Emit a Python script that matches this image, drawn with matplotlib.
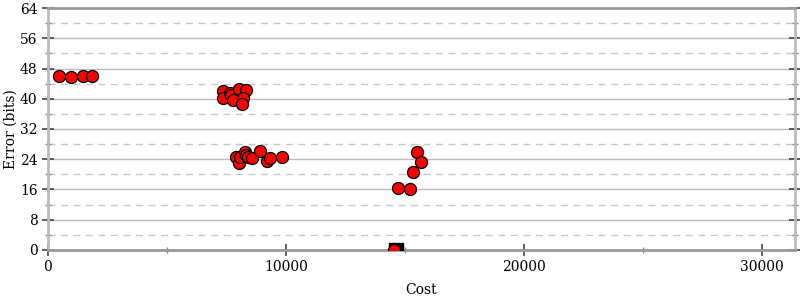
import matplotlib
matplotlib.use('Agg')
import matplotlib.pyplot as plt
from matplotlib.ticker import MultipleLocator, FixedLocator


cost = [462, 966, 1470, 1849,
        7366, 7366, 7647, 7676, 7761, 8038, 8307, 8181, 8151,
        7899, 8025, 8067, 8290, 8319, 8416, 8559, 8908, 9189, 9328, 9832,
        15492, 15672, 15336, 14693, 15210, 14540]
error = [46.0, 45.8, 45.9, 45.9,
         42.1, 40.2, 41.6, 41.0, 39.6, 42.5, 42.3, 40.1, 38.7,
         24.7, 23.1, 24.5, 25.8, 25.1, 24.7, 24.3, 26.1, 23.5, 24.3, 24.7,
         26.0, 23.4, 20.6, 16.5, 16.1, 0.1]
best_cost = [14620]
best_error = [0.0]

x_max = 31400
y_max = 64


def main():
    plt.rcParams.update({
        'font.family': 'DejaVu Serif',
        'font.size': 10,
    })
    fig = plt.figure(figsize=(8, 3), dpi=100)
    ax = fig.add_axes([0.06, 0.1667, 0.93375, 0.8066])

    ax.set_xlim(0, x_max)
    ax.set_ylim(0, y_max)

    ax.yaxis.set_major_locator(MultipleLocator(8))
    ax.yaxis.set_minor_locator(FixedLocator(range(4, 64, 8)))
    ax.xaxis.set_major_locator(FixedLocator([0, 10000, 20000, 30000]))
    ax.xaxis.set_minor_locator(FixedLocator([5000, 15000, 25000]))

    ax.grid(which='major', axis='y', color='#bbbbbb', linewidth=1, linestyle='-')
    ax.grid(which='minor', axis='y', color='#c8c8c8', linewidth=1,
            linestyle=(0, (5, 4)))
    ax.set_axisbelow(True)

    for side in ['left', 'right']:
        ax.spines[side].set_color('#bbbbbb')
        ax.spines[side].set_linewidth(2)
    for side in ['top', 'bottom']:
        ax.spines[side].set_color('#999999')
        ax.spines[side].set_linewidth(2)

    ax.tick_params(axis='both', which='major', direction='inout', length=8,
                   width=1.2, color='#444444', labelsize=10)
    ax.tick_params(axis='both', which='minor', direction='inout', length=5,
                   width=1, color='#888888')
    ax.tick_params(axis='y', which='both', right=True)

    ax.scatter(best_cost, best_error, marker='s', s=110, color='black',
               zorder=3, clip_on=True)
    ax.scatter(cost, error, s=75, color='#ff0000', edgecolors='black',
               linewidths=0.9, zorder=4, clip_on=True)

    ax.set_xlabel('Cost', labelpad=6)
    ax.set_ylabel('Error (bits)', labelpad=2)

    fig.savefig('out.png', dpi=100)


if __name__ == "__main__":
    main()
